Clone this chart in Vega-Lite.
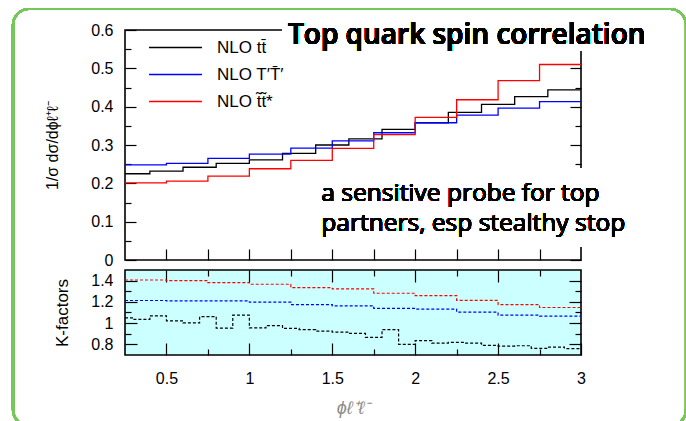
{
  "$schema": "https://vega.github.io/schema/vega-lite/v6.json",
  "background": "white",
  "padding": {"left": 11, "top": 7, "right": 0, "bottom": 0},
  "spacing": 10,
  "bounds": "flush",
  "config": {
    "view": {"stroke": "black", "strokeWidth": 1.6},
    "axis": {"labelFont": "Liberation Sans", "titleFont": "Liberation Sans", "labelFontSize": 16, "titleFontSize": 16, "titleFontWeight": "normal", "labelColor": "black", "titleColor": "black", "tickColor": "black", "tickWidth": 1.2, "domain": false, "grid": false, "labelFlush": false, "labelOverlap": false},
    "legend": {"labelFont": "Liberation Sans", "labelFontSize": 17, "labelColor": "black"}
  },
  "datasets": {
    "spectra": [
      {"s": "NLO tt̄", "x": 0.25, "y": 0.225}, {"s": "NLO tt̄", "x": 0.4, "y": 0.232}, {"s": "NLO tt̄", "x": 0.6, "y": 0.242}, {"s": "NLO tt̄", "x": 0.8, "y": 0.252}, {"s": "NLO tt̄", "x": 1.0, "y": 0.261}, {"s": "NLO tt̄", "x": 1.2, "y": 0.278}, {"s": "NLO tt̄", "x": 1.4, "y": 0.300}, {"s": "NLO tt̄", "x": 1.6, "y": 0.316}, {"s": "NLO tt̄", "x": 1.8, "y": 0.341}, {"s": "NLO tt̄", "x": 2.0, "y": 0.358}, {"s": "NLO tt̄", "x": 2.2, "y": 0.385}, {"s": "NLO tt̄", "x": 2.4, "y": 0.406}, {"s": "NLO tt̄", "x": 2.6, "y": 0.426}, {"s": "NLO tt̄", "x": 2.8, "y": 0.444}, {"s": "NLO tt̄", "x": 3.0, "y": 0.444},
      {"s": "NLO T′T̄′", "x": 0.25, "y": 0.248}, {"s": "NLO T′T̄′", "x": 0.5, "y": 0.252}, {"s": "NLO T′T̄′", "x": 0.75, "y": 0.265}, {"s": "NLO T′T̄′", "x": 1.0, "y": 0.276}, {"s": "NLO T′T̄′", "x": 1.25, "y": 0.292}, {"s": "NLO T′T̄′", "x": 1.5, "y": 0.311}, {"s": "NLO T′T̄′", "x": 1.75, "y": 0.332}, {"s": "NLO T′T̄′", "x": 2.0, "y": 0.358}, {"s": "NLO T′T̄′", "x": 2.25, "y": 0.378}, {"s": "NLO T′T̄′", "x": 2.5, "y": 0.396}, {"s": "NLO T′T̄′", "x": 2.75, "y": 0.413}, {"s": "NLO T′T̄′", "x": 3.0, "y": 0.413},
      {"s": "NLO t̃t̃*", "x": 0.25, "y": 0.201}, {"s": "NLO t̃t̃*", "x": 0.5, "y": 0.206}, {"s": "NLO t̃t̃*", "x": 0.75, "y": 0.219}, {"s": "NLO t̃t̃*", "x": 1.0, "y": 0.238}, {"s": "NLO t̃t̃*", "x": 1.25, "y": 0.260}, {"s": "NLO t̃t̃*", "x": 1.5, "y": 0.291}, {"s": "NLO t̃t̃*", "x": 1.75, "y": 0.327}, {"s": "NLO t̃t̃*", "x": 2.0, "y": 0.372}, {"s": "NLO t̃t̃*", "x": 2.25, "y": 0.418}, {"s": "NLO t̃t̃*", "x": 2.5, "y": 0.468}, {"s": "NLO t̃t̃*", "x": 2.75, "y": 0.510}, {"s": "NLO t̃t̃*", "x": 3.0, "y": 0.510}
    ],
    "kfactors": [
      {"s": "NLO tt̄", "x": 0.25, "k": 1.05}, {"s": "NLO tt̄", "x": 0.3, "k": 1.035}, {"s": "NLO tt̄", "x": 0.4, "k": 1.068}, {"s": "NLO tt̄", "x": 0.5, "k": 1.022}, {"s": "NLO tt̄", "x": 0.6, "k": 1.002}, {"s": "NLO tt̄", "x": 0.7, "k": 1.062}, {"s": "NLO tt̄", "x": 0.8, "k": 0.953}, {"s": "NLO tt̄", "x": 0.9, "k": 1.075}, {"s": "NLO tt̄", "x": 1.0, "k": 0.955}, {"s": "NLO tt̄", "x": 1.1, "k": 0.977}, {"s": "NLO tt̄", "x": 1.2, "k": 0.95}, {"s": "NLO tt̄", "x": 1.3, "k": 0.938}, {"s": "NLO tt̄", "x": 1.4, "k": 0.925}, {"s": "NLO tt̄", "x": 1.5, "k": 0.916}, {"s": "NLO tt̄", "x": 1.6, "k": 0.903}, {"s": "NLO tt̄", "x": 1.7, "k": 0.866}, {"s": "NLO tt̄", "x": 1.8, "k": 0.938}, {"s": "NLO tt̄", "x": 1.9, "k": 0.80}, {"s": "NLO tt̄", "x": 2.0, "k": 0.835}, {"s": "NLO tt̄", "x": 2.1, "k": 0.812}, {"s": "NLO tt̄", "x": 2.2, "k": 0.819}, {"s": "NLO tt̄", "x": 2.3, "k": 0.812}, {"s": "NLO tt̄", "x": 2.4, "k": 0.791}, {"s": "NLO tt̄", "x": 2.5, "k": 0.784}, {"s": "NLO tt̄", "x": 2.6, "k": 0.787}, {"s": "NLO tt̄", "x": 2.7, "k": 0.763}, {"s": "NLO tt̄", "x": 2.8, "k": 0.775}, {"s": "NLO tt̄", "x": 2.9, "k": 0.76}, {"s": "NLO tt̄", "x": 3.0, "k": 0.76},
      {"s": "NLO T′T̄′", "x": 0.25, "k": 1.213}, {"s": "NLO T′T̄′", "x": 0.5, "k": 1.209}, {"s": "NLO T′T̄′", "x": 0.75, "k": 1.209}, {"s": "NLO T′T̄′", "x": 1.0, "k": 1.197}, {"s": "NLO T′T̄′", "x": 1.25, "k": 1.175}, {"s": "NLO T′T̄′", "x": 1.5, "k": 1.163}, {"s": "NLO T′T̄′", "x": 1.75, "k": 1.138}, {"s": "NLO T′T̄′", "x": 2.0, "k": 1.131}, {"s": "NLO T′T̄′", "x": 2.25, "k": 1.103}, {"s": "NLO T′T̄′", "x": 2.5, "k": 1.075}, {"s": "NLO T′T̄′", "x": 2.75, "k": 1.066}, {"s": "NLO T′T̄′", "x": 3.0, "k": 1.066},
      {"s": "NLO t̃t̃*", "x": 0.25, "k": 1.406}, {"s": "NLO t̃t̃*", "x": 0.5, "k": 1.40}, {"s": "NLO t̃t̃*", "x": 0.75, "k": 1.381}, {"s": "NLO t̃t̃*", "x": 1.0, "k": 1.366}, {"s": "NLO t̃t̃*", "x": 1.25, "k": 1.334}, {"s": "NLO t̃t̃*", "x": 1.5, "k": 1.322}, {"s": "NLO t̃t̃*", "x": 1.75, "k": 1.281}, {"s": "NLO t̃t̃*", "x": 2.0, "k": 1.259}, {"s": "NLO t̃t̃*", "x": 2.25, "k": 1.215}, {"s": "NLO t̃t̃*", "x": 2.5, "k": 1.175}, {"s": "NLO t̃t̃*", "x": 2.75, "k": 1.147}, {"s": "NLO t̃t̃*", "x": 3.0, "k": 1.147}
    ]
  },
  "vconcat": [
    {
      "width": 456,
      "height": 230,
      "data": {"name": "spectra"},
      "resolve": {"axis": {"x": "independent", "y": "independent"}},
      "layer": [
        {
          "transform": [{"filter": "datum.s === 'NLO tt̄'"}],
          "mark": {"type": "line", "interpolate": "step-after", "strokeWidth": 1.3},
          "encoding": {
            "x": {"field": "x", "type": "quantitative", "scale": {"domain": [0.25, 3], "nice": false, "zero": false},
              "axis": {"orient": "bottom", "title": null, "labels": false, "values": [0.5, 0.75, 1, 1.25, 1.5, 1.75, 2, 2.25, 2.5, 2.75], "tickSize": -11}},
            "y": {"field": "y", "type": "quantitative", "scale": {"domain": [0, 0.6], "nice": false},
              "axis": {"orient": "left", "title": "1/σ dσ/dϕℓ⁺ℓ⁻", "titlePadding": 30,
                "values": [0, 0.05, 0.1, 0.15, 0.2, 0.25, 0.3, 0.35, 0.4, 0.45, 0.5, 0.55, 0.6],
                "labelExpr": "abs(datum.value*10 - round(datum.value*10)) < 0.01 ? (datum.value == 0 ? '0' : format(datum.value, '.1f')) : ''",
                "tickSize": {"condition": {"test": "abs(datum.value*10 - round(datum.value*10)) < 0.01", "value": -11}, "value": -6},
                "labelPadding": 23}},
            "color": {"field": "s", "type": "nominal",
              "scale": {"domain": ["NLO tt̄", "NLO T′T̄′", "NLO t̃t̃*"], "range": ["#000000", "#0000ff", "#ff0000"]},
              "legend": {"orient": "none", "legendX": 23, "legendY": 9, "title": null, "padding": 0, "symbolType": "stroke", "symbolSize": 2800, "symbolStrokeWidth": 1.3, "labelOffset": 14, "clipHeight": 17, "rowPadding": 9}}
          }
        },
        {
          "transform": [{"filter": "datum.s === 'NLO T′T̄′'"}],
          "mark": {"type": "line", "interpolate": "step-after", "strokeWidth": 1.3},
          "encoding": {
            "x": {"field": "x", "type": "quantitative", "axis": null},
            "y": {"field": "y", "type": "quantitative",
              "axis": {"orient": "right", "title": null, "labels": false,
                "values": [0, 0.05, 0.1, 0.15, 0.2, 0.25, 0.3, 0.35, 0.4, 0.45, 0.5, 0.55, 0.6],
                "tickSize": {"condition": {"test": "abs(datum.value*10 - round(datum.value*10)) < 0.01", "value": -11}, "value": -6}}},
            "color": {"field": "s", "type": "nominal"}
          }
        },
        {
          "transform": [{"filter": "datum.s === 'NLO t̃t̃*'"}],
          "mark": {"type": "line", "interpolate": "step-after", "strokeWidth": 1.3},
          "encoding": {
            "x": {"field": "x", "type": "quantitative", "axis": null},
            "y": {"field": "y", "type": "quantitative", "axis": null},
            "color": {"field": "s", "type": "nominal"}
          }
        },
        {
          "mark": {"type": "rect", "fill": "white"},
          "encoding": {
            "x": {"datum": 1.2, "type": "quantitative", "axis": null},
            "x2": {"datum": 3.45},
            "y": {"datum": 0.545, "type": "quantitative", "axis": null},
            "y2": {"datum": 0.645}
          }
        },
        {
          "mark": {"type": "rect", "fill": "white"},
          "encoding": {
            "x": {"datum": 1.37, "type": "quantitative", "axis": null},
            "x2": {"datum": 3.45},
            "y": {"datum": 0.035, "type": "quantitative", "axis": null},
            "y2": {"datum": 0.238}
          }
        },
        {
          "mark": {"type": "rect", "filled": false, "stroke": "#77c85a", "strokeWidth": 2.2, "cornerRadius": 16},
          "encoding": {
            "x": {"datum": -0.4255, "type": "quantitative", "axis": null},
            "x2": {"datum": 3.6336},
            "y": {"datum": -0.432, "type": "quantitative", "axis": null},
            "y2": {"datum": 0.6548}
          }
        },
        {
          "mark": {"type": "text", "text": "Top quark spin correlation", "font": "Open Sans", "fontSize": 28, "fontWeight": 600, "align": "left", "baseline": "alphabetic", "color": "black"},
          "encoding": {
            "x": {"datum": 1.233, "type": "quantitative", "axis": null},
            "y": {"datum": 0.564, "type": "quantitative", "axis": null}
          }
        },
        {
          "mark": {"type": "text", "text": ["a sensitive probe for top", "partners, esp stealthy stop"], "font": "Open Sans", "fontSize": 24.5, "lineHeight": 30, "align": "left", "baseline": "alphabetic", "color": "black"},
          "encoding": {
            "x": {"datum": 1.434, "type": "quantitative", "axis": null},
            "y": {"datum": 0.155, "type": "quantitative", "axis": null}
          }
        }
      ]
    },
    {
      "width": 456,
      "height": 85,
      "view": {"fill": "#ccffff"},
      "data": {"name": "kfactors"},
      "resolve": {"axis": {"x": "independent", "y": "independent"}},
      "layer": [
        {
          "transform": [{"filter": "datum.s === 'NLO tt̄'"}],
          "mark": {"type": "line", "interpolate": "step-after", "strokeWidth": 1.2, "strokeDash": [3, 2]},
          "encoding": {
            "x": {"field": "x", "type": "quantitative", "scale": {"domain": [0.25, 3], "nice": false, "zero": false},
              "axis": {"orient": "bottom", "title": "ϕℓ⁺ℓ⁻", "titleColor": "#8c8c8c", "titleFontStyle": "italic", "titleFontSize": 18, "titlePadding": 7,
                "values": [0.5, 0.75, 1, 1.25, 1.5, 1.75, 2, 2.25, 2.5, 2.75, 3],
                "labelExpr": "abs(datum.value*2 - round(datum.value*2)) < 0.01 ? format(datum.value, '~g') : ''",
                "tickSize": {"condition": {"test": "abs(datum.value*2 - round(datum.value*2)) < 0.01", "value": -12}, "value": -6},
                "labelPadding": 27}},
            "y": {"field": "k", "type": "quantitative", "scale": {"domain": [0.7, 1.5], "nice": false, "zero": false},
              "axis": {"orient": "left", "title": "K-factors", "titleFontSize": 17, "titlePadding": 19,
                "values": [0.8, 0.9, 1, 1.1, 1.2, 1.3, 1.4],
                "labelExpr": "abs(datum.value*5 - round(datum.value*5)) < 0.01 ? (datum.value == 1 ? '1' : format(datum.value, '.1f')) : ''",
                "tickSize": {"condition": {"test": "abs(datum.value*5 - round(datum.value*5)) < 0.01", "value": -12}, "value": -6},
                "labelPadding": 24}},
            "color": {"field": "s", "type": "nominal", "legend": null}
          }
        },
        {
          "transform": [{"filter": "datum.s === 'NLO T′T̄′'"}],
          "mark": {"type": "line", "interpolate": "step-after", "strokeWidth": 1.2, "strokeDash": [3, 2]},
          "encoding": {
            "x": {"field": "x", "type": "quantitative",
              "axis": {"orient": "top", "title": null, "labels": false,
                "values": [0.5, 0.75, 1, 1.25, 1.5, 1.75, 2, 2.25, 2.5, 2.75],
                "tickSize": {"condition": {"test": "abs(datum.value*2 - round(datum.value*2)) < 0.01", "value": -12}, "value": -6}}},
            "y": {"field": "k", "type": "quantitative",
              "axis": {"orient": "right", "title": null, "labels": false,
                "values": [0.8, 0.9, 1, 1.1, 1.2, 1.3, 1.4],
                "tickSize": {"condition": {"test": "abs(datum.value*5 - round(datum.value*5)) < 0.01", "value": -12}, "value": -6}}},
            "color": {"field": "s", "type": "nominal", "legend": null}
          }
        },
        {
          "transform": [{"filter": "datum.s === 'NLO t̃t̃*'"}],
          "mark": {"type": "line", "interpolate": "step-after", "strokeWidth": 1.2, "strokeDash": [3, 2]},
          "encoding": {
            "x": {"field": "x", "type": "quantitative", "axis": null},
            "y": {"field": "k", "type": "quantitative", "axis": null},
            "color": {"field": "s", "type": "nominal", "legend": null}
          }
        }
      ]
    }
  ]
}
